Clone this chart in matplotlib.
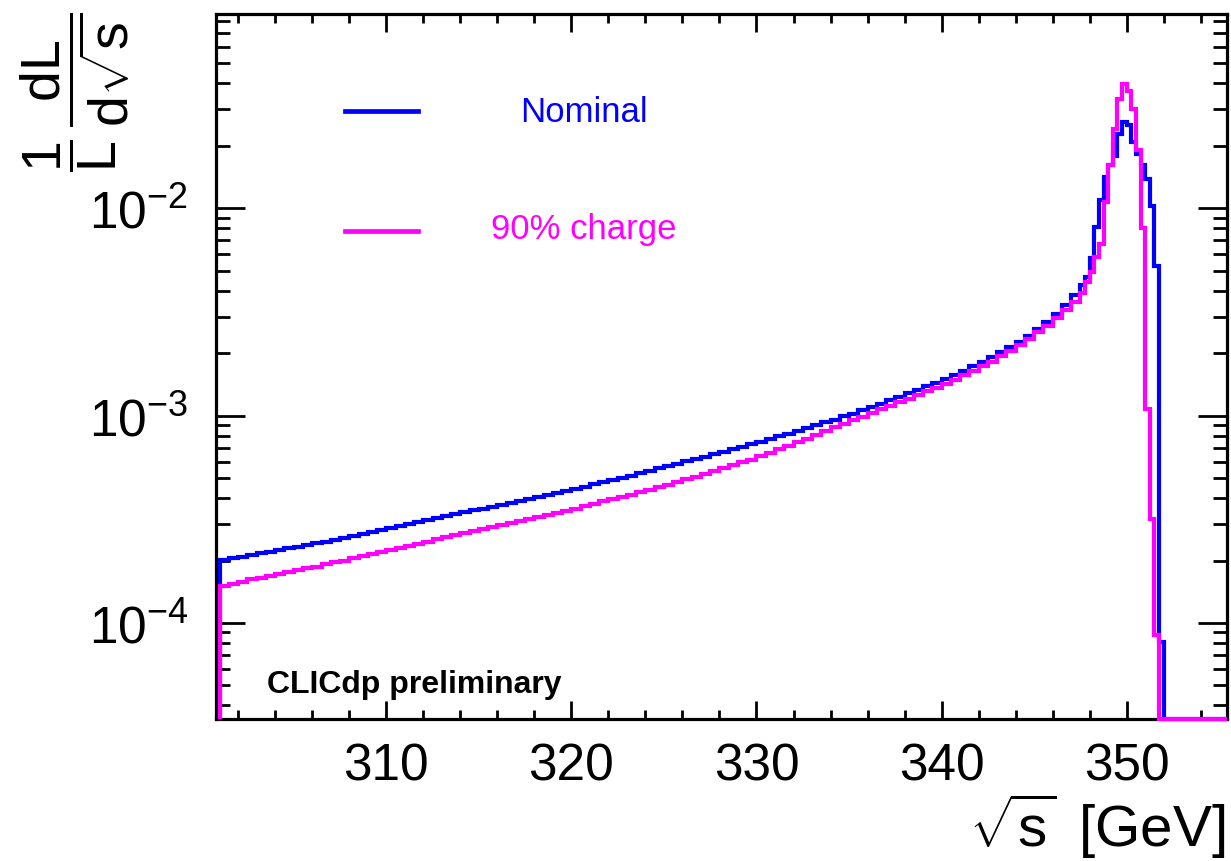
import numpy as np
import matplotlib
matplotlib.use("Agg")
import matplotlib.pyplot as plt
from matplotlib.ticker import MultipleLocator, LogLocator, NullFormatter, LogFormatterMathtext
from matplotlib.lines import Line2D

plt.rcParams['font.family'] = ['Liberation Sans', 'DejaVu Sans']
plt.rcParams['mathtext.fontset'] = 'custom'
plt.rcParams['mathtext.rm'] = 'Liberation Sans'
plt.rcParams['mathtext.it'] = 'Liberation Sans'
plt.rcParams['mathtext.bf'] = 'Liberation Sans:bold'

# ---- luminosity spectrum, 1/L dL/dsqrt(s) per bin ----
# binning: 0.5 GeV in the tail (301 - 347.5 GeV), 0.25 GeV across the peak (347.5 - 352.5 GeV)
tail_edges = np.arange(301.0, 347.5 + 1e-9, 0.5)
peak_edges = np.arange(347.75, 352.5 + 1e-9, 0.25)
edges = np.concatenate([tail_edges, peak_edges])

nominal_tail = [
    2.01e-4, 2.05e-4, 2.09e-4, 2.13e-4, 2.17e-4, 2.21e-4, 2.25e-4, 2.29e-4, 2.33e-4, 2.38e-4,
    2.42e-4, 2.47e-4, 2.52e-4, 2.57e-4, 2.63e-4, 2.69e-4, 2.75e-4, 2.81e-4, 2.87e-4, 2.93e-4,
    3.00e-4, 3.06e-4, 3.13e-4, 3.20e-4, 3.27e-4, 3.34e-4, 3.42e-4, 3.49e-4, 3.56e-4, 3.64e-4,
    3.72e-4, 3.79e-4, 3.87e-4, 3.95e-4, 4.05e-4, 4.13e-4, 4.23e-4, 4.33e-4, 4.43e-4, 4.54e-4,
    4.66e-4, 4.78e-4, 4.89e-4, 5.01e-4, 5.14e-4, 5.27e-4, 5.42e-4, 5.56e-4, 5.70e-4, 5.85e-4,
    6.01e-4, 6.17e-4, 6.34e-4, 6.52e-4, 6.70e-4, 6.89e-4, 7.08e-4, 7.28e-4, 7.48e-4, 7.71e-4,
    7.94e-4, 8.18e-4, 8.43e-4, 8.69e-4, 8.97e-4, 9.27e-4, 9.57e-4, 9.91e-4, 1.023e-3, 1.059e-3,
    1.099e-3, 1.140e-3, 1.183e-3, 1.230e-3, 1.279e-3, 1.330e-3, 1.384e-3, 1.442e-3, 1.507e-3, 1.574e-3,
    1.648e-3, 1.730e-3, 1.816e-3, 1.914e-3, 2.023e-3, 2.138e-3, 2.275e-3, 2.432e-3, 2.63e-3, 2.82e-3,
    3.09e-3, 3.43e-3, 3.80e-3,
]
nominal_peak = [
    4.27e-3, 4.68e-3, 5.75e-3, 8.13e-3, 1.10e-2, 1.41e-2, 1.62e-2, 1.78e-2, 2.29e-2, 2.60e-2,
    2.51e-2, 2.09e-2, 1.82e-2, 1.62e-2, 1.38e-2, 1.02e-2, 5.25e-3, 8.1e-5, 0.0, 0.0,
]

charge90_tail = [
    1.50e-4, 1.54e-4, 1.58e-4, 1.62e-4, 1.65e-4, 1.69e-4, 1.72e-4, 1.76e-4, 1.79e-4, 1.84e-4,
    1.87e-4, 1.92e-4, 1.96e-4, 2.00e-4, 2.05e-4, 2.10e-4, 2.15e-4, 2.20e-4, 2.25e-4, 2.30e-4,
    2.36e-4, 2.41e-4, 2.47e-4, 2.53e-4, 2.59e-4, 2.65e-4, 2.71e-4, 2.77e-4, 2.83e-4, 2.90e-4,
    2.96e-4, 3.02e-4, 3.09e-4, 3.16e-4, 3.24e-4, 3.31e-4, 3.39e-4, 3.47e-4, 3.56e-4, 3.65e-4,
    3.76e-4, 3.86e-4, 3.95e-4, 4.05e-4, 4.16e-4, 4.27e-4, 4.40e-4, 4.52e-4, 4.65e-4, 4.79e-4,
    4.93e-4, 5.08e-4, 5.24e-4, 5.41e-4, 5.58e-4, 5.76e-4, 5.94e-4, 6.13e-4, 6.35e-4, 6.61e-4,
    6.88e-4, 7.13e-4, 7.42e-4, 7.73e-4, 8.07e-4, 8.43e-4, 8.77e-4, 9.15e-4, 9.50e-4, 9.89e-4,
    1.031e-3, 1.072e-3, 1.114e-3, 1.160e-3, 1.207e-3, 1.257e-3, 1.308e-3, 1.364e-3, 1.426e-3, 1.491e-3,
    1.562e-3, 1.644e-3, 1.727e-3, 1.822e-3, 1.930e-3, 2.044e-3, 2.179e-3, 2.337e-3, 2.54e-3, 2.71e-3,
    2.95e-3, 3.24e-3, 3.55e-3,
]
charge90_peak = [
    3.89e-3, 4.40e-3, 4.90e-3, 5.81e-3, 6.71e-3, 1.07e-2, 1.62e-2, 2.40e-2, 3.35e-2, 3.96e-2,
    3.66e-2, 3.00e-2, 1.92e-2, 8.0e-3, 1.07e-3, 3.16e-4, 8.7e-5, 0.0, 0.0, 0.0,
]

series_labels = ["Nominal", "90% charge"]
series_colors = ["#0000ff", "#ff00ff"]

x_ticks = [310, 320, 330, 340, 350]
XMIN, XMAX = 300.8, 355.42
YMIN, YMAX = 3.44e-5, 8.65e-2

# ---- figure ----
W, H = 1231, 862
fig = plt.figure(figsize=(W / 100, H / 100), dpi=100)
ax = fig.add_axes([216 / W, 1 - 720 / H, (1227 - 216) / W, (720 - 15) / H])
ax.set_yscale('log')
ax.set_xlim(XMIN, XMAX)
ax.set_ylim(YMIN, YMAX)


def draw_hist(values, color):
    vals = np.asarray(values, dtype=float)
    # empty bins sit on the frame floor; spectrum continues flat to the right edge
    e = np.append(edges, XMAX)
    v = np.append(vals, 0.0)
    v = np.where(v > YMIN, v, YMIN)
    ax.stairs(v, e, baseline=YMIN, fill=False, color=color, lw=3.0,
              clip_on=False, zorder=4)


draw_hist(np.concatenate([nominal_tail, nominal_peak]), series_colors[0])
draw_hist(np.concatenate([charge90_tail, charge90_peak]), series_colors[1])

# ---- axes styling ----
for s in ax.spines.values():
    s.set_linewidth(2.3)
    s.set_zorder(3)

ax.xaxis.set_major_locator(MultipleLocator(10))
ax.xaxis.set_minor_locator(MultipleLocator(2))
ax.set_xticks(x_ticks)
ax.yaxis.set_major_locator(LogLocator(base=10, numticks=10))
ax.yaxis.set_minor_locator(LogLocator(base=10, subs=np.arange(2, 10), numticks=20))
ax.yaxis.set_major_formatter(LogFormatterMathtext())
ax.yaxis.set_minor_formatter(NullFormatter())

ax.tick_params(axis='both', which='both', direction='in', top=True, right=True,
               width=2.0, color='black')
ax.tick_params(axis='x', which='major', length=13, pad=16, labelsize=37)
ax.tick_params(axis='x', which='minor', length=6.5)
ax.tick_params(axis='y', which='major', length=21, pad=20, labelsize=37)
ax.tick_params(axis='y', which='minor', length=10)

# axis titles
fig.text(1225 / W, 1 - 847 / H, r'$\sqrt{s}\,$ [GeV]', ha='right', va='baseline', fontsize=42)
fig.text(75 / W, 1 - 12 / H,
         r'$\dfrac{1}{L}\,\dfrac{dL}{d\sqrt{s}}$',
         rotation=90, ha='center', va='top', fontsize=40)

# legend entries
legend_rows = [112, 232]
text_rows = [113, 230]
for lab, col, yl, yt in zip(series_labels, series_colors, legend_rows, text_rows):
    fig.add_artist(Line2D([345 / W, 418 / W], [1 - yl / H, 1 - yl / H], color=col, lw=3.4))
    fig.text(584 / W, 1 - yt / H, lab, color=col, ha='center', va='center', fontsize=25)

fig.text(267 / W, 1 - 693 / H, 'CLICdp preliminary', fontsize=23, fontweight='bold',
         ha='left', va='baseline')

fig.savefig('out.png', dpi=100)
